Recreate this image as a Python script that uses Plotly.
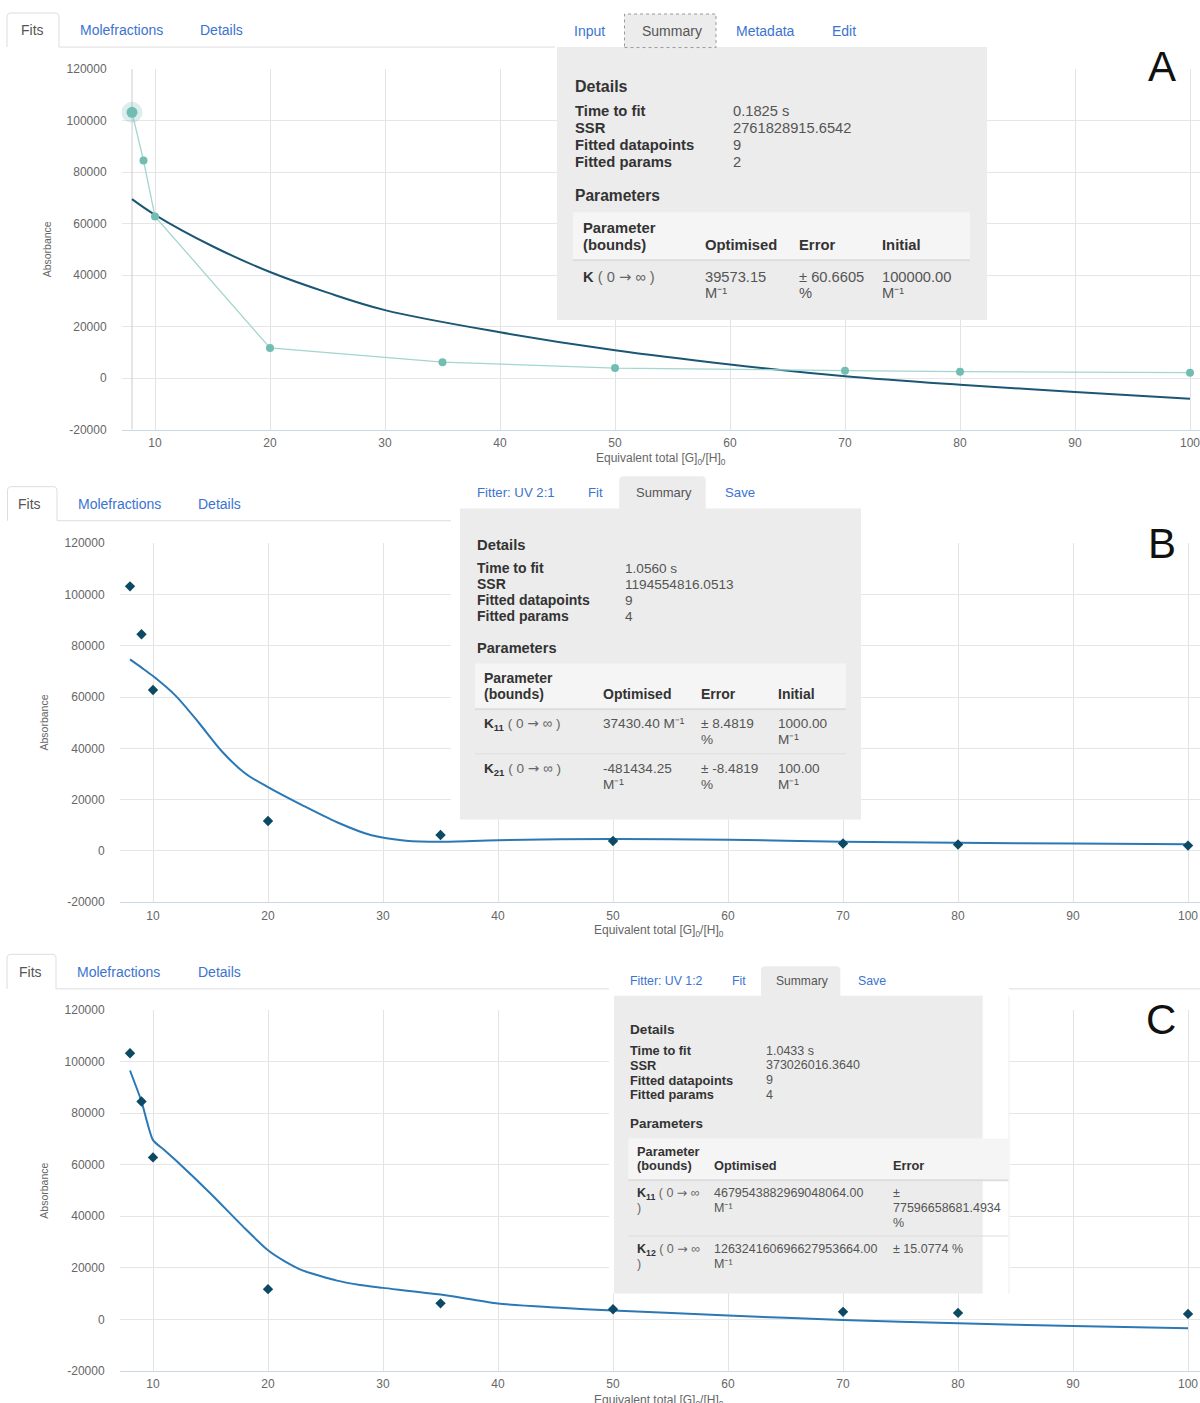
import plotly.graph_objects as go

# page geometry: vertical placement is expressed in page pixels and converted
# to the figure's paper coordinates (the page adds a small top offset and a
# slight vertical squeeze when it is captured)
W = 1200
FIG_H = 1412
V_OFF = 7.0
V_SCALE = 0.9887
SANS = "Liberation Sans, Arial, sans-serif"
BLUE = "#3b74d0"
GREY_TXT = "#555555"
DARK_TXT = "#333333"
BOX = "#ececec"
HEAD_BG = "#f5f5f5"
RULE = "#dddddd"
ARROW = "<span style='font-family:DejaVu Sans'>→</span>"

# ---- titration data (equivalents of guest vs absorbance) ----
conc = [8, 9, 10, 20, 35, 50, 70, 80, 100]
absorbance = [103200, 84500, 62800, 11700, 6200, 3900, 2900, 2500, 2100]

# ---- fitted curves ----
fit_a_x = [8, 10, 15, 20, 25, 30, 40, 50, 60, 70, 80, 90, 100]
fit_a_y = [69500, 63400, 51200, 41200, 33200, 26400, 17800, 10800, 5300, 700, -2600, -5400, -8000]

fit_b_x = [8, 9, 10, 12, 14, 16, 18, 20, 23, 26, 29, 32, 35, 40, 50, 60, 70, 80, 90, 100]
fit_b_y = [74700, 71500, 68200, 60400, 49900, 38800, 30300, 24900, 17800, 11200, 6100, 4000,
           3600, 4200, 4700, 4400, 3600, 3200, 2900, 2600]

fit_c_x = [8, 9, 10, 11, 12, 15, 18, 20, 21.5, 23, 26, 28, 30, 35, 40, 45, 50, 60, 70, 80, 90, 100]
fit_c_y = [96500, 84500, 69500, 65600, 61600, 48800, 35200, 26800, 22400, 19000, 15000, 13300, 12200,
           9600, 6100, 4600, 3400, 1500, -300, -1500, -2600, -3500]

# ---- axis ticks ----
x_ticks = [10, 20, 30, 40, 50, 60, 70, 80, 90, 100]
x_tick_labels = [str(v) for v in x_ticks]
y_ticks = [-20000, 0, 20000, 40000, 60000, 80000, 100000, 120000]
y_tick_labels = [str(v) for v in y_ticks]

# ---- summary panel contents ----
details_a = [("Time to fit", "0.1825 s"), ("SSR", "2761828915.6542"),
             ("Fitted datapoints", "9"), ("Fitted params", "2")]
details_b = [("Time to fit", "1.0560 s"), ("SSR", "1194554816.0513"),
             ("Fitted datapoints", "9"), ("Fitted params", "4")]
details_c = [("Time to fit", "1.0433 s"), ("SSR", "373026016.3640"),
             ("Fitted datapoints", "9"), ("Fitted params", "4")]


def px(x):
    return x / W


def py(y):
    return 1 - ((y - V_OFF) / V_SCALE) / FIG_H


shapes = []
annotations = []


def rect(x0, y0, x1, y1, fill, line=None, dash=None, width=1):
    shapes.append(dict(type="rect", xref="paper", yref="paper",
                       x0=px(x0), x1=px(x1), y0=py(y1), y1=py(y0),
                       fillcolor=fill,
                       line=dict(color=line if line else "rgba(0,0,0,0)",
                                 width=width if line else 0, dash=dash),
                       layer="above"))


def hline(x0, x1, y, color=RULE, width=1):
    shapes.append(dict(type="line", xref="paper", yref="paper",
                       x0=px(x0), x1=px(x1), y0=py(y), y1=py(y),
                       line=dict(color=color, width=width), layer="above"))


def vline(x, y0, y1, color=RULE, width=1):
    shapes.append(dict(type="line", xref="paper", yref="paper",
                       x0=px(x), x1=px(x), y0=py(y0), y1=py(y1),
                       line=dict(color=color, width=width), layer="above"))


def tab(x0, y0, x1, y1, fill, border=None, r=4):
    body = (f"M {px(x0)},{py(y1)} L {px(x0)},{py(y0 + r)} Q {px(x0)},{py(y0)} {px(x0 + r)},{py(y0)} "
            f"L {px(x1 - r)},{py(y0)} Q {px(x1)},{py(y0)} {px(x1)},{py(y0 + r)} L {px(x1)},{py(y1)}")
    shapes.append(dict(type="path", xref="paper", yref="paper", path=body + " Z",
                       fillcolor=fill, line=dict(width=0, color="rgba(0,0,0,0)"), layer="above"))
    if border:
        shapes.append(dict(type="path", xref="paper", yref="paper", path=body,
                           line=dict(width=1, color=border), layer="above"))


def text(x, y, s, size, color=DARK_TXT, bold=False, anchor="left", angle=0, family=SANS):
    if bold:
        s = f"<b>{s}</b>"
    annotations.append(dict(xref="paper", yref="paper", x=px(x), y=py(y), text=s,
                            showarrow=False, xanchor=anchor, yanchor="middle",
                            textangle=angle, borderpad=0,
                            font=dict(family=family, size=size, color=color)))


def pname(sub=None, close=True):
    k = f"K<sub>{sub}</sub>" if sub else "K"
    tail = " )" if close else ""
    return f"<b>{k}</b><span style='color:#666666'> ( 0 {ARROW} ∞{tail}</span>"


# ================= Panel A =================
tab(7, 13, 59, 47, "white", border=RULE)
hline(59, 555, 47)
text(20, 30, "Fits", 14, GREY_TXT)
text(79, 30, "Molefractions", 14, BLUE)
text(199, 30, "Details", 14, BLUE)
rect(557, 47, 987, 319.5, BOX)
rect(624.5, 14, 716, 47.5, BOX, line="#9a9a9a", dash="dot")
text(573, 30.5, "Input", 14, BLUE)
text(641, 30.5, "Summary", 14, GREY_TXT)
text(735, 30.5, "Metadata", 14, BLUE)
text(831, 30.5, "Edit", 14, BLUE)
text(574, 86, "Details", 16, DARK_TXT, bold=True)
for i, (k, v) in enumerate(details_a):
    yy = 111 + i * 17
    text(574, yy, k, 14.8, DARK_TXT, bold=True)
    text(732, yy, v, 14.7, GREY_TXT)
text(574, 195, "Parameters", 15.6, DARK_TXT, bold=True)
rect(573, 212, 970, 259, HEAD_BG)
hline(573, 970, 260, RULE, 2)
text(582, 227.5, "Parameter", 14.8, DARK_TXT, bold=True)
text(582, 244.3, "(bounds)", 14.8, DARK_TXT, bold=True)
text(704, 244.3, "Optimised", 14.8, DARK_TXT, bold=True)
text(798, 244.3, "Error", 14.8, DARK_TXT, bold=True)
text(881, 244.3, "Initial", 14.8, DARK_TXT, bold=True)
text(582, 276.3, pname(), 14.7, DARK_TXT)
text(704, 276.3, "39573.15", 14.7, GREY_TXT)
text(704, 293, "M⁻¹", 14.7, GREY_TXT)
text(798, 276.3, "± 60.6605", 14.7, GREY_TXT)
text(798, 293, "%", 14.7, GREY_TXT)
text(881, 276.3, "100000.00", 14.7, GREY_TXT)
text(881, 293, "M⁻¹", 14.7, GREY_TXT)
text(1161.5, 66, "A", 42, "#111111", anchor="center")
text(47, 249, "Absorbance", 10.5, "#666666", angle=-90, anchor="center")
text(661, 458, "Equivalent total [G]<sub>0</sub>/[H]<sub>0</sub>", 12, "#666666", anchor="center")

# ================= Panel B =================
tab(7.5, 486, 57, 520, "white", border=RULE)
hline(57, 451, 520)
text(17, 503.3, "Fits", 14, GREY_TXT)
text(76.5, 503.3, "Molefractions", 14, BLUE)
text(197, 503.3, "Details", 14, BLUE)
rect(451, 470, 861, 818.3, "white")
rect(460, 507.7, 861, 818.3, BOX)
tab(619.3, 475.7, 705.7, 508.5, BOX)
text(475.7, 492, "Fitter: UV 2:1", 13.2, BLUE)
text(587.3, 492, "Fit", 13.2, BLUE)
text(635, 492, "Summary", 13, GREY_TXT)
text(723.7, 492, "Save", 13.2, BLUE)
text(475.7, 544, "Details", 14.8, DARK_TXT, bold=True)
for i, (k, v) in enumerate(details_b):
    yy = 567.7 + i * 15.9
    text(475.7, yy, k, 14, DARK_TXT, bold=True)
    text(623.7, yy, v, 13.6, GREY_TXT)
text(475.7, 646.7, "Parameters", 14.6, DARK_TXT, bold=True)
rect(475, 662.7, 845.7, 707.3, HEAD_BG)
hline(475, 845.7, 708.3, RULE, 2)
hline(475, 845.7, 752.7, RULE, 1)
text(483, 677, "Parameter", 14, DARK_TXT, bold=True)
text(483, 692.7, "(bounds)", 14, DARK_TXT, bold=True)
text(601.7, 692.7, "Optimised", 14, DARK_TXT, bold=True)
text(700, 692.7, "Error", 14, DARK_TXT, bold=True)
text(776.7, 692.7, "Initial", 14, DARK_TXT, bold=True)
text(483, 722.7, pname("11"), 13.6, DARK_TXT)
text(601.7, 722.7, "37430.40 M⁻¹", 13.6, GREY_TXT)
text(700, 722.7, "± 8.4819", 13.6, GREY_TXT)
text(700, 738.3, "%", 13.6, GREY_TXT)
text(776.7, 722.7, "1000.00", 13.6, GREY_TXT)
text(776.7, 738.3, "M⁻¹", 13.6, GREY_TXT)
text(483, 767.7, pname("21"), 13.6, DARK_TXT)
text(601.7, 767.7, "-481434.25", 13.6, GREY_TXT)
text(601.7, 783.3, "M⁻¹", 13.6, GREY_TXT)
text(700, 767.7, "± -8.4819", 13.6, GREY_TXT)
text(700, 783.3, "%", 13.6, GREY_TXT)
text(776.7, 767.7, "100.00", 13.6, GREY_TXT)
text(776.7, 783.3, "M⁻¹", 13.6, GREY_TXT)
text(1161.5, 543, "B", 42, "#111111", anchor="center")
text(44, 721.5, "Absorbance", 10.5, "#666666", angle=-90, anchor="center")
text(659, 930, "Equivalent total [G]<sub>0</sub>/[H]<sub>0</sub>", 12, "#666666", anchor="center")

# ================= Panel C =================
tab(7, 953, 56, 987.5, "white", border=RULE)
hline(56, 1200, 987.5)
text(17.7, 970.7, "Fits", 14, GREY_TXT)
text(76, 970.7, "Molefractions", 14, BLUE)
text(196.7, 970.7, "Details", 14, BLUE)
rect(609, 960, 1009, 1291.7, "white")
vline(1009, 995, 1291.7, "#eeeeee")
rect(614, 994.3, 982.7, 1291.7, BOX)
tab(761, 965, 840.3, 995, BOX)
text(628.7, 980, "Fitter: UV 1:2", 12.3, BLUE)
text(731, 980, "Fit", 12.3, BLUE)
text(775, 980, "Summary", 12.1, GREY_TXT)
text(856.7, 980, "Save", 12.3, BLUE)
text(629, 1027.7, "Details", 13.6, DARK_TXT, bold=True)
for i, (k, v) in enumerate(details_c):
    yy = 1049.3 + i * 14.67
    text(629, yy, k, 12.8, DARK_TXT, bold=True)
    text(764.7, yy, v, 12.5, GREY_TXT)
text(629, 1122.3, "Parameters", 13.4, DARK_TXT, bold=True)
rect(628.3, 1137, 1008.3, 1177.7, HEAD_BG)
hline(628.3, 1008.3, 1178.7, RULE, 2)
hline(628.3, 1008.3, 1234.3, RULE, 1)
text(635.7, 1149.7, "Parameter", 12.8, DARK_TXT, bold=True)
text(635.7, 1164, "(bounds)", 12.8, DARK_TXT, bold=True)
text(712.7, 1164, "Optimised", 12.8, DARK_TXT, bold=True)
text(892, 1164, "Error", 12.8, DARK_TXT, bold=True)
text(635.7, 1191.7, pname("11", close=False), 12.5, DARK_TXT)
text(635.7, 1206.7, ")", 12.5, "#666666")
text(712.7, 1191.7, "4679543882969048064.00", 12.5, GREY_TXT)
text(712.7, 1206.7, "M⁻¹", 12.5, GREY_TXT)
text(892, 1191.7, "±", 12.5, GREY_TXT)
text(892, 1206.7, "77596658681.4934", 12.5, GREY_TXT)
text(892, 1221, "%", 12.5, GREY_TXT)
text(635.7, 1247.7, pname("12", close=False), 12.5, DARK_TXT)
text(635.7, 1262.7, ")", 12.5, "#666666")
text(712.7, 1247.7, "126324160696627953664.00", 12.5, GREY_TXT)
text(712.7, 1262.7, "M⁻¹", 12.5, GREY_TXT)
text(892, 1247.7, "± 15.0774 %", 12.5, GREY_TXT)
text(1160.5, 1018, "C", 42, "#111111", anchor="center")
text(44, 1189, "Absorbance", 10.5, "#666666", angle=-90, anchor="center")
text(659, 1399, "Equivalent total [G]<sub>0</sub>/[H]<sub>0</sub>", 12, "#666666", anchor="center")

# hover crosshair on the first point of panel A
shapes.append(dict(type="line", xref="x", yref="y", x0=8, x1=8, y0=-20000, y1=120000,
                   line=dict(color="#cccccc", width=1), layer="between"))

# ================= traces =================
TEAL = "#72bdb3"
TEAL_LINE = "#a3d6cf"
NAVY = "#0c4a64"
FIT_A = "#1b5775"
FIT_BC = "#2a78b6"

traces = [
    go.Scatter(x=fit_a_x, y=fit_a_y, mode="lines", line=dict(color=FIT_A, width=2, shape="spline", smoothing=1),
               xaxis="x", yaxis="y", hoverinfo="skip"),
    go.Scatter(x=conc, y=absorbance, mode="lines+markers", line=dict(color=TEAL_LINE, width=1.3),
               marker=dict(color=TEAL, size=8), xaxis="x", yaxis="y"),
    go.Scatter(x=conc[:1], y=absorbance[:1], mode="markers",
               marker=dict(color=TEAL, size=21, opacity=0.25), xaxis="x", yaxis="y", hoverinfo="skip"),
    go.Scatter(x=conc[:1], y=absorbance[:1], mode="markers",
               marker=dict(color=TEAL, size=11), xaxis="x", yaxis="y", hoverinfo="skip"),
    go.Scatter(x=fit_b_x, y=fit_b_y, mode="lines", line=dict(color=FIT_BC, width=2, shape="spline", smoothing=0.8),
               xaxis="x2", yaxis="y2", hoverinfo="skip"),
    go.Scatter(x=conc, y=absorbance, mode="markers", marker=dict(color=NAVY, size=8, symbol="diamond"),
               xaxis="x2", yaxis="y2"),
    go.Scatter(x=fit_c_x, y=fit_c_y, mode="lines", line=dict(color=FIT_BC, width=2, shape="spline", smoothing=0.6),
               xaxis="x3", yaxis="y3", hoverinfo="skip"),
    go.Scatter(x=conc, y=absorbance, mode="markers", marker=dict(color=NAVY, size=8, symbol="diamond"),
               xaxis="x3", yaxis="y3"),
]

fig = go.Figure(data=traces)

tickfont = dict(family=SANS, size=12, color="#666666")


def xaxis(left_px, rng, anchor):
    return dict(domain=[px(left_px), 1.0], range=rng, anchor=anchor,
                tickmode="array", tickvals=x_ticks, ticktext=x_tick_labels,
                showgrid=True, gridcolor="#e3e3e3", gridwidth=1, zeroline=False,
                showline=True, linecolor="#ccd6eb", linewidth=1,
                ticks="outside", ticklen=2, tickcolor="rgba(0,0,0,0)",
                ticklabeloverflow="allow",
                tickfont=tickfont, fixedrange=True)


def yaxis(top_px, bottom_px, anchor):
    return dict(domain=[py(bottom_px), py(top_px)], range=[-20000, 120000], anchor=anchor,
                tickmode="array", tickvals=y_ticks, ticktext=y_tick_labels,
                showgrid=True, gridcolor="#e6e6e6", gridwidth=1, zeroline=False,
                showline=False, ticks="outside", ticklen=12, tickcolor="rgba(0,0,0,0)",
                tickfont=tickfont, fixedrange=True)


fig.update_layout(
    width=W, height=FIG_H, autosize=False,
    margin=dict(l=0, r=0, t=0, b=0),
    paper_bgcolor="white", plot_bgcolor="white",
    showlegend=False, hovermode=False,
    xaxis=xaxis(122, [7.13, 100.87], "y"),
    yaxis=yaxis(69, 429, "x"),
    xaxis2=xaxis(120, [7.13, 101.04], "y2"),
    yaxis2=yaxis(542.5, 901, "x2"),
    xaxis3=xaxis(120, [7.13, 101.04], "y3"),
    yaxis3=yaxis(1008.5, 1369, "x3"),
    shapes=shapes,
    annotations=annotations,
)

fig.write_html("out.html", config={"displayModeBar": False})
